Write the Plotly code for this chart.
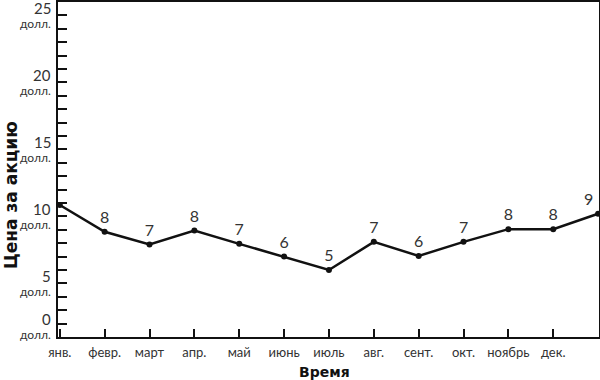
import plotly.graph_objects as go

months = ["янв.", "февр.", "март", "апр.", "май", "июнь", "июль",
          "авг.", "сент.", "окт.", "ноябрь", "дек."]
x_pos = list(range(13))
prices = [9.85, 7.85, 6.9, 7.95, 6.95, 6.0, 5.0, 7.1, 6.05, 7.1, 8.05, 8.05, 9.2]
point_labels = [""] + [str(round(v)) for v in prices[1:]]
y_label_vals = [0, 5, 10, 15, 20, 25]

FONT = "Lato"
TXT = "#333333"

fig = go.Figure()
fig.add_trace(go.Scatter(
    x=x_pos, y=prices, mode="lines+markers+text",
    line=dict(color="#111111", width=2.5),
    marker=dict(color="#111111", size=6),
    text=point_labels,
    textposition=["top center"] * 12 + ["top left"],
    textfont=dict(family=FONT, size=16, color=TXT),
    cliponaxis=False, hoverinfo="skip", showlegend=False,
))

annotations = []
for v in y_label_vals:
    if v == 0:
        s_num, s_unit = 18, 3
    else:
        s_num, s_unit = -6, -21
    annotations.append(dict(xref="paper", yref="y", x=0, y=v, xanchor="right",
                            yanchor="middle", xshift=-5, yshift=s_num, showarrow=False,
                            text=str(v), font=dict(family=FONT, size=15, color=TXT)))
    annotations.append(dict(xref="paper", yref="y", x=0, y=v, xanchor="right",
                            yanchor="middle", xshift=-5, yshift=s_unit, showarrow=False,
                            text="долл.", font=dict(family=FONT, size=12, color=TXT)))

annotations.append(dict(xref="paper", yref="paper", x=0, y=0.424, xanchor="center",
                        yanchor="middle", xshift=-47, showarrow=False, textangle=-90,
                        text="<b>Цена за акцию</b>",
                        font=dict(family="DejaVu Sans", size=17, color="#111111")))
annotations.append(dict(xref="paper", yref="paper", x=0.4917, y=-0.1045, xanchor="center",
                        yanchor="middle", showarrow=False,
                        text="<b>Время</b>",
                        font=dict(family="DejaVu Sans", size=14, color="#111111")))

fig.update_layout(
    width=600, height=380,
    margin=dict(l=58, r=1, t=2, b=43, autoexpand=False),
    plot_bgcolor="white", paper_bgcolor="white",
    annotations=annotations,
    xaxis=dict(range=[-0.04, 12.02], tickmode="array", tickvals=list(range(12)),
               ticktext=months, ticks="inside", ticklen=8, tickwidth=2, tickcolor="#111111",
               showline=True, linecolor="#111111", linewidth=2, mirror=True,
               showgrid=False, zeroline=False, ticklabelstandoff=2, automargin=False,
               tickfont=dict(family=FONT, size=13, color=TXT)),
    yaxis=dict(range=[0, 25], tickmode="array", tickvals=list(range(1, 25)),
               ticks="inside", ticklen=9, tickwidth=2, tickcolor="#111111",
               showticklabels=False, automargin=False,
               showline=True, linecolor="#111111", linewidth=2, mirror=True,
               showgrid=False, zeroline=False),
)

fig.write_html("out.html", config={"displayModeBar": False},
               post_script="document.body.style.margin='0';document.body.style.overflow='hidden';")
